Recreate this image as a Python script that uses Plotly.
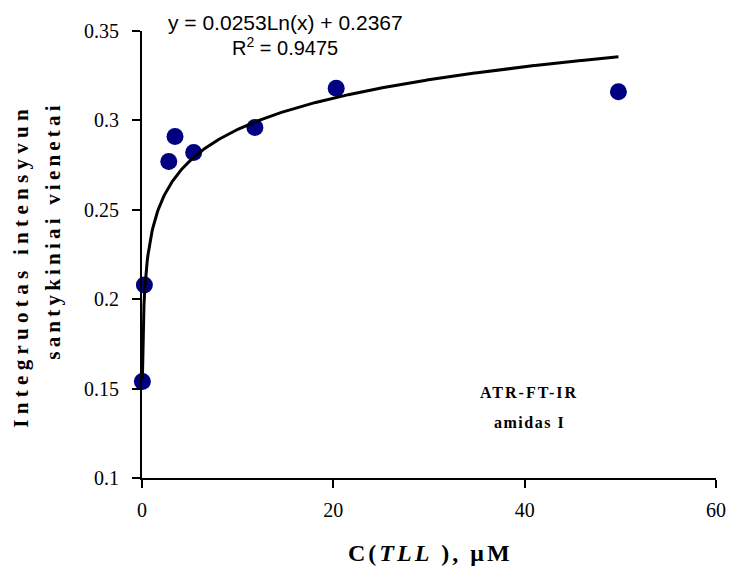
import numpy as np
import plotly.graph_objects as go

# Measured integrated intensity vs TLL concentration
conc_um = [0.04, 0.25, 2.8, 3.45, 5.4, 11.8, 20.3, 49.8]
intensity = [0.154, 0.208, 0.277, 0.291, 0.282, 0.296, 0.318, 0.316]

# Logarithmic trendline coefficients: y = a*ln(x) + b
fit_a = 0.0253
fit_b = 0.2367
fit_r2 = 0.9475

x_ticks = [0, 20, 40, 60]
x_ticktext = ["0", "20", "40", "60"]
y_ticks = [0.1, 0.15, 0.2, 0.25, 0.3, 0.35]
y_ticktext = ["0.1", "0.15", "0.2", "0.25", "0.3", "0.35"]

fit_x = np.linspace(min(conc_um), max(conc_um), 600)
fit_y = fit_a * np.log(fit_x) + fit_b

serif = "Liberation Serif, Times New Roman, serif"
sans = "Liberation Sans, Arial, sans-serif"

fig = go.Figure()
fig.add_trace(go.Scatter(
    x=conc_um, y=intensity, mode="markers",
    marker=dict(symbol="circle", size=17, color="#000080", line=dict(width=0)),
    cliponaxis=False, showlegend=False,
))
fig.add_trace(go.Scatter(
    x=fit_x, y=fit_y, mode="lines",
    line=dict(color="black", width=3),
    cliponaxis=False, showlegend=False,
))

axis_common = dict(
    showgrid=False, zeroline=False, showline=True, linecolor="black", linewidth=2,
    ticks="outside", ticklen=8, tickwidth=1.5, tickcolor="black",
    tickfont=dict(family=serif, size=20, color="black"),
    mirror=False, automargin=False,
)
fig.update_xaxes(range=[0, 60], tickvals=x_ticks, ticktext=x_ticktext, ticklabelstandoff=5, **axis_common)
fig.update_yaxes(range=[0.1, 0.35], tickvals=y_ticks, ticktext=y_ticktext, ticklabelstandoff=9, **axis_common)


def spaced(text, px):
    return f'<span style="letter-spacing:{px}px">{text}</span>'


def px_x(p):
    return (p - 142) / 574


def px_y(p):
    return (478.3 - p) / 447


fig.add_annotation(
    text=f"y = {fit_a}Ln(x) + {fit_b}", xref="paper", yref="paper",
    x=px_x(285), y=px_y(23), showarrow=False,
    font=dict(family=sans, size=21, color="black"), xanchor="center", yanchor="middle",
)
fig.add_annotation(
    text=f"R<sup>2</sup> = {fit_r2}", xref="paper", yref="paper",
    x=px_x(285), y=px_y(47), showarrow=False,
    font=dict(family=sans, size=20, color="black"), xanchor="center", yanchor="middle",
)
fig.add_annotation(
    text="<b>" + spaced("ATR-FT-IR", 2) + "</b>", xref="paper", yref="paper",
    x=px_x(529), y=px_y(393), showarrow=False,
    font=dict(family=serif, size=16, color="black"), xanchor="center", yanchor="middle",
)
fig.add_annotation(
    text="<b>" + spaced("amidas I", 1.5) + "</b>", xref="paper", yref="paper",
    x=px_x(529), y=px_y(423), showarrow=False,
    font=dict(family=serif, size=16, color="black"), xanchor="center", yanchor="middle",
)
fig.add_annotation(
    text="<b>" + spaced("C(<i>TLL</i> ), μM", 3) + "</b>", xref="paper", yref="paper",
    x=px_x(430), y=px_y(553), showarrow=False,
    font=dict(family=serif, size=24, color="black"), xanchor="center", yanchor="middle",
)
fig.add_annotation(
    text="<b>" + spaced("Integruotas intensyvun", 5.3) + "</b>", xref="paper", yref="paper",
    x=px_x(21), y=px_y(266), showarrow=False, textangle=-90,
    font=dict(family=serif, size=21, color="black"), xanchor="center", yanchor="middle",
)
fig.add_annotation(
    text="<b>" + spaced("santykiniai vienetai", 4.2) + "</b>", xref="paper", yref="paper",
    x=px_x(53), y=px_y(231), showarrow=False, textangle=-90,
    font=dict(family=serif, size=21, color="black"), xanchor="center", yanchor="middle",
)

fig.update_layout(
    width=730, height=568,
    margin=dict(l=142, r=14, t=31, b=90, pad=0),
    paper_bgcolor="white", plot_bgcolor="white",
    showlegend=False,
)

fig.write_html("out.html")
